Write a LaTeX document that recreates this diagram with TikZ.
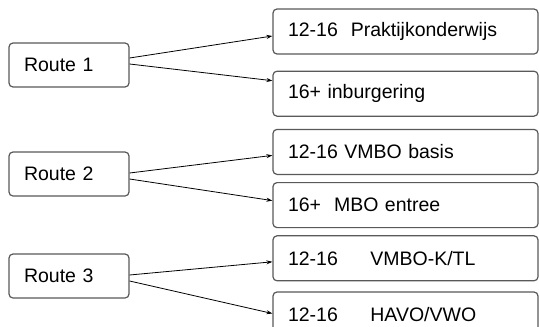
\documentclass[tikz,border=0pt]{standalone}
\usepackage{fontspec}
\setmainfont{Liberation Sans}
\usetikzlibrary{positioning, arrows.meta}

\begin{document}
\begin{tikzpicture}[
        x=1pt, y=-1pt,
        route/.style={draw=black!65, fill=white, rounded corners=4pt, line width=1.2pt, minimum height=44pt, text width=90pt, inner xsep=15pt, align=left, font=\fontsize{19.5}{22}\selectfont},
        option/.style={route, minimum height=45pt, text width=235pt},
        arr/.style={-{Stealth[length=6pt,width=4pt]}, line width=0.8pt},
    ]
    \useasboundingbox (0,0) rectangle (539,327);

    % routes
    \node[route] (r1) at (69,65) {Route 1};
    \node[route] (r2) at (69,174) {Route 2};
    \node[route] (r3) at (69,276) {Route 3};

    % options
    \node[option] (p1) at (405.5,31.5) {12-16~~Praktijkonderwijs};
    \node[option, below=16pt of p1] (p2) {16+ inburgering};
    \node[option, below=12pt of p2] (p3) {12-16 VMBO basis};
    \node[option, below=7pt of p3] (p4) {16+~~MBO entree};
    \node[option, below=7pt of p4] (p5) {12-16~~~~~VMBO-K/TL};
    \node[option, below=10pt of p5] (p6) {12-16~~~~~HAVO/VWO};

    \draw[arr] ([yshift=7pt]r1.east) -- ([yshift=-4.5pt]p1.west);
    \draw[arr] ([yshift=1pt]r1.east) -- ([yshift=13pt]p2.west);
    \draw[arr] ([yshift=1pt]r2.east) -- ([yshift=-3.5pt]p3.west);
    \draw[arr] ([yshift=-5pt]r2.east) -- ([yshift=4.5pt]p4.west);
    \draw[arr] ([yshift=1pt]r3.east) -- ([yshift=-3.5pt]p5.west);
    \draw[arr] ([yshift=-5pt]r3.east) -- ([yshift=1pt]p6.west);
\end{tikzpicture}
\end{document}
